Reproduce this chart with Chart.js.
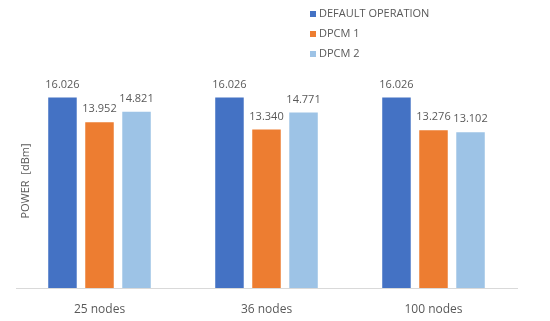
<!DOCTYPE html>
<html>
<head>
<meta charset="utf-8">
<script src="https://cdn.jsdelivr.net/npm/chart.js@4"></script>
<style>
  html, body { margin: 0; padding: 0; background: #fff; }
  #wrap { width: 550px; height: 321px; position: relative; }
</style>
</head>
<body>
<div id="wrap"><canvas id="PowerChart"></canvas></div>
<script>
const categories = ['25 nodes', '36 nodes', '100 nodes'];
const seriesNames = ['DEFAULT OPERATION', 'DPCM 1', 'DPCM 2'];
const defaultOperation = [16.026, 16.026, 16.026];
const dpcm1 = [13.952, 13.340, 13.276];
const dpcm2 = [14.821, 14.771, 13.102];
const colors = ['#4472C4', '#ED7D31', '#9DC3E6'];

const textColor = '#595959';
const fontFamily = "'Open Sans', sans-serif";

// value labels above each bar
const valueLabels = {
    id: 'valueLabels',
    afterDatasetsDraw(chart) {
        const c = chart.ctx;
        c.save();
        c.font = '11px ' + fontFamily;
        c.fillStyle = textColor;
        c.textAlign = 'center';
        c.textBaseline = 'middle';
        chart.data.datasets.forEach(function (ds, i) {
            chart.getDatasetMeta(i).data.forEach(function (bar, j) {
                c.fillText(ds.data[j].toFixed(3), bar.x, bar.y - 13);
            });
        });
        c.restore();
    }
};

// vertical legend in the top right, and the y axis title
const extras = {
    id: 'extras',
    afterDraw(chart) {
        const c = chart.ctx;
        c.save();
        c.font = '11px ' + fontFamily;
        c.textBaseline = 'middle';
        chart.data.datasets.forEach(function (ds, i) {
            const y = 14 + i * 20;
            c.fillStyle = ds.backgroundColor;
            c.fillRect(310, y - 3, 6, 6);
            c.fillStyle = textColor;
            c.fillText(ds.label, 319, y);
        });
        c.translate(26, 181);
        c.rotate(-Math.PI / 2);
        c.textAlign = 'center';
        c.fillText('POWER  [dBm]', 0, 0);
        c.restore();
    }
};

new Chart(document.getElementById('PowerChart'), {
    type: 'bar',
    data: {
        labels: categories,
        datasets: [
            { label: seriesNames[0], data: defaultOperation, backgroundColor: colors[0] },
            { label: seriesNames[1], data: dpcm1, backgroundColor: colors[1] },
            { label: seriesNames[2], data: dpcm2, backgroundColor: colors[2] }
        ]
    },
    options: {
        responsive: true,
        maintainAspectRatio: false,
        animation: false,
        layout: { padding: { left: 16, right: 33, top: 74, bottom: 0 } },
        datasets: { bar: { barPercentage: 0.77, categoryPercentage: 0.665 } },
        plugins: { legend: { display: false }, tooltip: { enabled: false } },
        scales: {
            x: {
                grid: { display: false, drawTicks: false },
                border: { color: '#D9D9D9', width: 1 },
                ticks: { color: textColor, font: { family: fontFamily, size: 12 }, padding: 14 },
                afterFit: function (scale) { scale.height = 33; }
            },
            y: { display: false, min: 0, max: 18 }
        }
    },
    plugins: [valueLabels, extras]
});
</script>
</body>
</html>
